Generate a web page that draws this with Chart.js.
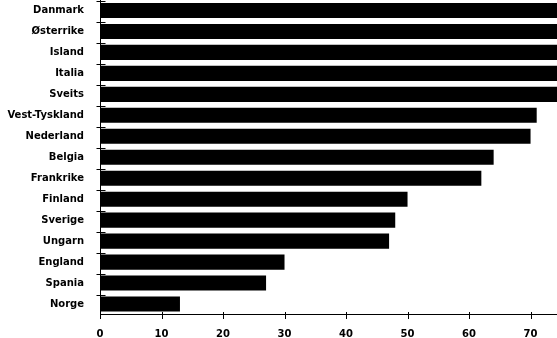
<!DOCTYPE html>
<html>
<head>
<meta charset="utf-8">
<script src="https://cdn.jsdelivr.net/npm/chart.js@4"></script>
<style>
html,body{margin:0;padding:0;background:#fff;}
#wrap{width:557px;height:338px;position:relative;}
</style>
</head>
<body>
<div id="wrap"><canvas id="c" width="557" height="338"></canvas></div>
<script>
const categories = ["Danmark","Østerrike","Island","Italia","Sveits","Vest-Tyskland","Nederland","Belgia","Frankrike","Finland","Sverige","Ungarn","England","Spania","Norge"];
const values = [76, 76, 76, 76, 76, 71, 70, 64, 62, 50, 48, 47, 30, 27, 13];
const xTickValues = [0, 10, 20, 30, 40, 50, 60, 70];
const xMax = 74.3;

const crossTicks = {
  id: 'crossTicks',
  afterDraw(chart) {
    const ctx = chart.ctx;
    const x = chart.scales.x, y = chart.scales.y;
    ctx.save();
    ctx.strokeStyle = '#000';
    ctx.lineWidth = 1;
    ctx.beginPath();
    const ax = Math.round(x.getPixelForValue(0)) + 0.5;
    ctx.moveTo(ax, y.bottom);
    ctx.lineTo(ax, y.bottom + 4);
    for (let i = 0; i < categories.length; i++) {
      const py = Math.round(y.getPixelForValue(i - 0.445)) + 0.5;
      ctx.moveTo(ax - 4, py);
      ctx.lineTo(ax + 5, py);
    }
    const by = Math.round(x.top) + 0.5;
    xTickValues.forEach(v => {
      const px = Math.round(x.getPixelForValue(v)) + 0.5;
      ctx.moveTo(px, by - 3.5);
      ctx.lineTo(px, by + 3.5);
    });
    ctx.stroke();
    ctx.restore();
  }
};

new Chart(document.getElementById('c'), {
  type: 'bar',
  data: {
    labels: categories,
    datasets: [{
      data: values,
      backgroundColor: '#000',
      borderWidth: 0,
      barPercentage: 0.72,
      categoryPercentage: 1
    }]
  },
  options: {
    indexAxis: 'y',
    responsive: false,
    animation: false,
    devicePixelRatio: 1,
    layout: { padding: { top: 0, right: 0, bottom: 0, left: 0 } },
    plugins: { legend: { display: false }, tooltip: { enabled: false } },
    scales: {
      x: {
        min: 0,
        max: xMax,
        afterBuildTicks(scale) {
          scale.ticks = xTickValues.map(v => ({ value: v }));
        },
        afterFit(scale) { scale.height = 23.5; scale.paddingLeft = 0; scale.paddingRight = 0; },
        grid: { display: false, drawTicks: false },
        border: { display: true, color: '#000', width: 1 },
        ticks: {
          padding: 14,
          color: '#000',
          font: { family: 'DejaVu Sans', weight: 'bold', size: 10 },
          maxRotation: 0,
          autoSkip: false
        }
      },
      y: {
        afterFit(scale) { scale.width = 100; scale.paddingTop = 0; scale.paddingBottom = 0; },
        grid: { display: false, drawTicks: false },
        border: { display: true, color: '#000', width: 1 },
        ticks: {
          padding: 16,
          color: '#000',
          font: { family: 'DejaVu Sans', weight: 'bold', size: 10 },
          autoSkip: false
        }
      }
    }
  },
  plugins: [crossTicks]
});
</script>
</body>
</html>
